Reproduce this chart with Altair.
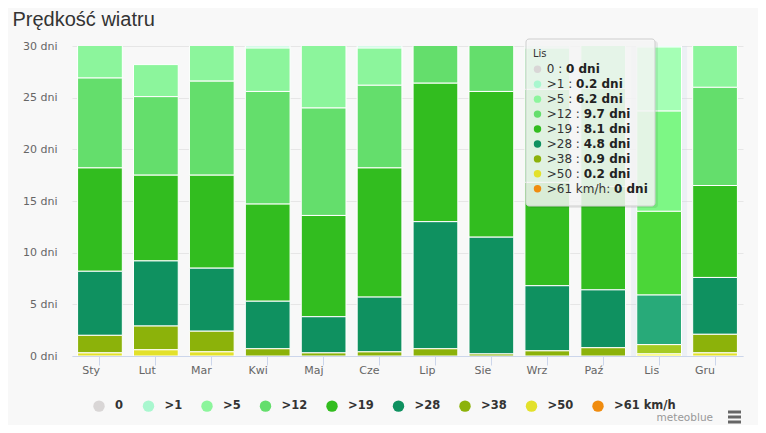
import altair as alt
import pandas as pd

# ---------------- data ----------------
months = ["Sty", "Lut", "Mar", "Kwi", "Maj", "Cze", "Lip", "Sie", "Wrz", "Paź", "Lis", "Gru"]
categories = ["0", ">1", ">5", ">12", ">19", ">28", ">38", ">50", ">61 km/h"]
colors = ["#d9d6d6", "#a9f7cf", "#8cf59c", "#64de6c", "#32bd1f", "#0f9160", "#8cb20a", "#e3e12b", "#f08c0f"]

v0 = [0, 0, 0, 0, 0, 0, 0, 0, 0, 0, 0, 0]
v1 = [0, 0, 0, 0.2, 0, 0.2, 0, 0, 0.2, 0, 0.2, 0]
v5 = [4.1, 3.1, 4.4, 4.2, 7.0, 3.6, 0, 0, 4.0, 5.1, 6.2, 5.0]
v12 = [8.7, 7.6, 9.1, 10.9, 10.4, 8.0, 4.6, 5.4, 9.0, 9.5, 9.7, 9.5]
v19 = [10.0, 8.3, 9.0, 9.4, 9.8, 12.5, 13.4, 14.1, 10.0, 10.0, 8.1, 8.9]
v28 = [6.2, 6.3, 6.1, 4.6, 3.5, 5.3, 12.3, 11.3, 6.3, 5.6, 4.8, 5.5]
v38 = [1.7, 2.3, 2.0, 0.7, 0.3, 0.4, 0.7, 0.2, 0.5, 0.8, 0.9, 1.8]
v50 = [0.3, 0.6, 0.4, 0, 0, 0, 0, 0, 0, 0, 0.2, 0.3]
v61 = [0, 0, 0, 0, 0, 0, 0, 0, 0, 0, 0, 0]
series = [v0, v1, v5, v12, v19, v28, v38, v50, v61]

y_ticks = [0, 5, 10, 15, 20, 25, 30]
title_text = "Prędkość wiatru"
hover_month = "Lis"
tip_labels = ["0 : ", ">1 : ", ">5 : ", ">12 : ", ">19 : ", ">28 : ", ">38 : ", ">50 : ", ">61 km/h: "]

# ---------------- tables ----------------
rows = []
for ci, (cat, vals) in enumerate(zip(categories, series)):
    for m, v in zip(months, vals):
        rows.append({"month": m, "cat": cat, "idx": ci, "value": v})
df = pd.DataFrame(rows)


def brighten(hexc, a=0.1):
    r, g, b = int(hexc[1:3], 16), int(hexc[3:5], 16), int(hexc[5:7], 16)
    f = lambda c: min(255, c + int(255 * a))
    return "#%02x%02x%02x" % (f(r), f(g), f(b))


bright = [brighten(c) for c in colors]

# DejaVu Sans advance widths (units per em 2048) for tooltip label measuring
adv = {" ": 651, ":": 690, ">": 1716, "k": 1186, "m": 1995, "/": 690, "h": 1298}
for d in "0123456789":
    adv[d] = 1303


def text_w(s, size=12):
    return sum(adv.get(ch, 1200) for ch in s) / 2048 * size


hi = months.index(hover_month)
tip = pd.DataFrame({
    "cat": categories,
    "label": tip_labels,
    "val": [f"{s[hi]:g} dni" for s in series],
    "row": list(range(len(categories))),
    "lw": [text_w(t) for t in tip_labels],
})

# ---------------- encodings ----------------
band = alt.Scale(domain=months, paddingInner=0.2, paddingOuter=0.1)
x_enc = alt.X(
    "month:N", sort=months, scale=band,
    axis=alt.Axis(title=None, labelAngle=0, domainColor="#ccd6eb", tickColor="#ccd6eb",
                  tickSize=9, labelPadding=5, labelFont="DejaVu Sans", labelFontSize=11,
                  labelColor="#666666", grid=False),
)
y_enc = alt.Y(
    "value:Q", stack="zero",
    scale=alt.Scale(domain=[0, 30], nice=False),
    axis=alt.Axis(title=None, values=y_ticks, labelExpr="datum.value + ' dni'", grid=True,
                  gridColor="#e6e6e6", domain=False, ticks=False, labelFont="DejaVu Sans",
                  labelFontSize=11, labelColor="#666666", labelPadding=15),
)

cross = alt.Chart(pd.DataFrame({"month": [hover_month]})).mark_bar(
    width=alt.RelativeBandSize(1.25), color="rgba(204,214,235,0.25)"
).encode(x=alt.X("month:N", sort=months, scale=band), y=alt.value(0), y2=alt.value(310))

bars = alt.Chart(df).transform_filter(
    (alt.datum.month != hover_month) & (alt.datum.value > 0)
).mark_bar(stroke="white", strokeWidth=1, clip=True).encode(
    x=x_enc, y=y_enc,
    color=alt.Color("cat:N", scale=alt.Scale(domain=categories, range=colors),
                    legend=alt.Legend(orient="none", legendX=21, legendY=354, direction="horizontal",
                                      columns=9, title=None, symbolType="circle", symbolSize=130,
                                      symbolStrokeWidth=0, labelFont="DejaVu Sans", labelFontSize=11.5,
                                      labelFontWeight="bold", labelColor="#333333", columnPadding=18.5,
                                      labelOffset=10)),
    order=alt.Order("idx:Q", sort="descending"),
)

bars_hi = alt.Chart(df).transform_filter(
    (alt.datum.month == hover_month) & (alt.datum.value > 0)
).mark_bar(stroke="white", strokeWidth=1, clip=True).encode(
    x=x_enc, y=y_enc,
    color=alt.Color("cat:N", scale=alt.Scale(domain=categories, range=bright), legend=None),
    order=alt.Order("idx:Q", sort="descending"),
)

bar_group = alt.layer(cross, bars, bars_hi).resolve_scale(color="independent")

# ---------------- title, tooltip, credits ----------------
px = alt.Scale(domain=[0, 671], range=[0, 671], nice=False, zero=False)
py = alt.Scale(domain=[0, 310], range=[0, 310], nice=False, zero=False)
one = pd.DataFrame({"a": [0]})

title = alt.Chart(pd.DataFrame({"t": [title_text]})).mark_text(
    align="left", baseline="alphabetic", font="Liberation Sans", fontSize=20, color="#333333"
).encode(text="t:N", x=alt.value(-59.5), y=alt.value(-20))

shadow = alt.Chart(one).mark_rect(fill="rgba(0,0,0,0.07)", cornerRadius=3).encode(
    x=alt.value(456), x2=alt.value(586), y=alt.value(-5), y2=alt.value(162))
box = alt.Chart(one).mark_rect(fill="rgba(247,247,247,0.85)", stroke="#cfcfcf", strokeWidth=1,
                               cornerRadius=3).encode(
    x=alt.value(454), x2=alt.value(583), y=alt.value(-7), y2=alt.value(160))
header = alt.Chart(pd.DataFrame({"t": [hover_month]})).mark_text(
    align="left", baseline="middle", font="DejaVu Sans", fontSize=10, color="#333333"
).encode(text="t:N", x=alt.value(461), y=alt.value(8))

tip_base = alt.Chart(tip).transform_calculate(ty="23.3 + datum.row * 14.93", vx="474.7 + datum.lw")
dots = tip_base.mark_circle(size=55, opacity=1).encode(
    x=alt.value(465.5), y=alt.Y("ty:Q", scale=py, axis=None),
    color=alt.Color("cat:N", scale=alt.Scale(domain=categories, range=colors), legend=None))
labs = tip_base.mark_text(align="left", baseline="middle", font="DejaVu Sans", fontSize=12,
                          color="#333333").encode(
    x=alt.value(474.7), y=alt.Y("ty:Q", scale=py, axis=None), text="label:N")
vals = tip_base.mark_text(align="left", baseline="middle", font="DejaVu Sans", fontSize=12,
                          fontWeight="bold", color="#222222").encode(
    x=alt.X("vx:Q", scale=px, axis=None), y=alt.Y("ty:Q", scale=py, axis=None), text="val:N")

credit = alt.Chart(pd.DataFrame({"t": ["meteoblue"]})).mark_text(
    align="right", baseline="middle", font="DejaVu Sans", fontSize=10.5, color="#999999"
).encode(text="t:N", x=alt.value(641), y=alt.value(372))

menu_bars = [
    alt.Chart(one).mark_rule(color="#666666", strokeWidth=3).encode(
        x=alt.value(656), x2=alt.value(669), y=alt.value(yy))
    for yy in (366, 371, 376)
]

tip_group = alt.layer(title, shadow, box, header, dots, labs, vals, credit, *menu_bars).resolve_scale(
    color="independent")

chart = alt.layer(bar_group, tip_group).resolve_scale(
    x="independent", y="independent", color="independent"
).properties(
    width=671, height=310,
    autosize=alt.AutoSizeParams(type="none"),
    padding={"left": 64, "top": 38, "right": 15, "bottom": 69},
    background="#f8f8f8",
).configure_view(stroke=None)

chart.save("out.html", embed_options={"renderer": "svg", "actions": False})
